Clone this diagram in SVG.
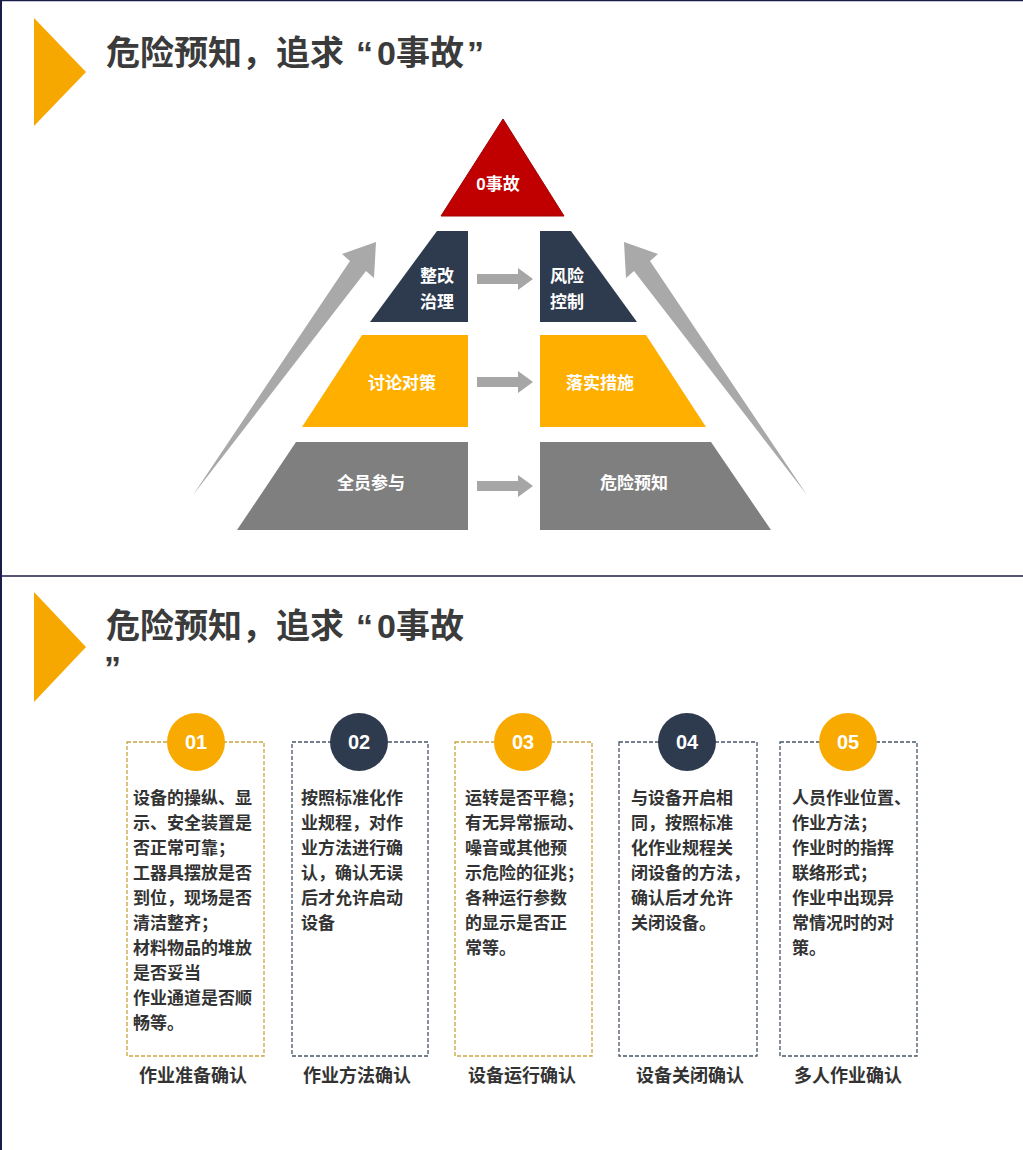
<svg xmlns="http://www.w3.org/2000/svg" width="1023" height="1150" viewBox="0 0 1023 1150">
<style>
text{font-family:"Liberation Sans","Noto Sans CJK SC",sans-serif;font-weight:bold}
.title{font-size:34px;fill:#3b3b3b}
.pw{font-size:17px;fill:#ffffff;text-anchor:middle}
.body{font-size:17px;fill:#333333}
.lab{font-size:18px;fill:#333333;text-anchor:middle}
.num{font-size:20px;fill:#ffffff;text-anchor:middle}
.cy{fill:none;stroke:#c9a440;stroke-width:1.3;stroke-dasharray:4 2}
.cn{fill:none;stroke:#4a5568;stroke-width:1.3;stroke-dasharray:4 2}
.arr{fill:#a6a6a6}
.big{fill:#a9a9a9}
</style>
<rect width="1023" height="1150" fill="#ffffff"/>
<line x1="0" y1="0.5" x2="1023" y2="0.5" stroke="#1c1c4a" stroke-width="1.5"/>
<line x1="1" y1="0" x2="1" y2="1150" stroke="#1c1c4a" stroke-width="2"/>
<line x1="0" y1="576" x2="1023" y2="576" stroke="#1c1c4a" stroke-width="1.5"/>

<g id="title1">
<polygon points="34,18 86,72 34,126" fill="#f6a800"/>
<text class="title" y="65"><tspan x="106">危险预知，追求</tspan><tspan x="356">“</tspan><tspan x="377">0事故</tspan><tspan x="467">”</tspan></text>
</g>

<g id="connectors">
<path class="big" d="M193,495 L350,261 L342,254 L376,242 L374,278 L366,271 Z"/>
<path class="big" d="M807,495 L650,261 L658,254 L624,242 L626,278 L634,271 Z"/>
<path class="arr" d="M477,274 H518 V268 L533,279 L518,290 V284 H477 Z"/>
<path class="arr" d="M477,377 H518 V371 L533,382 L518,393 V387 H477 Z"/>
<path class="arr" d="M477,481 H518 V475 L533,486 L518,497 V491 H477 Z"/>
</g>

<g id="node-top">
<polygon points="503,119 564,216 441,216" fill="#c00000" stroke="#a00000" stroke-width="1"/>
<text class="pw" x="498" y="190" style="font-size:17px">0事故</text>
</g>
<g id="node-zhenggai">
<polygon points="437,231 468,231 468,322 370,322" fill="#2e3a4e"/>
<text class="pw" x="437" y="282">整改</text>
<text class="pw" x="437" y="308">治理</text>
</g>
<g id="node-fengxian">
<polygon points="540,231 571,231 637,322 540,322" fill="#2e3a4e"/>
<text class="pw" x="567" y="282">风险</text>
<text class="pw" x="567" y="308">控制</text>
</g>
<g id="node-taolun">
<polygon points="362,335 468,335 468,427 302,427" fill="#feaf00"/>
<text class="pw" x="402" y="389">讨论对策</text>
</g>
<g id="node-luoshi">
<polygon points="540,335 646,335 706,427 540,427" fill="#feaf00"/>
<text class="pw" x="600" y="389">落实措施</text>
</g>
<g id="node-quanyuan">
<polygon points="296,442 468,442 468,530 237,530" fill="#7f7f7f"/>
<text class="pw" x="371" y="489">全员参与</text>
</g>
<g id="node-weixian">
<polygon points="540,442 711,442 771,530 540,530" fill="#7f7f7f"/>
<text class="pw" x="634" y="489">危险预知</text>
</g>

<g id="title2">
<polygon points="34,592 86,647 34,702" fill="#f6a800"/>
<text class="title" y="638"><tspan x="106">危险预知，追求</tspan><tspan x="356">“</tspan><tspan x="377">0事故</tspan></text>
<text class="title" x="104" y="680">”</text>
</g>

<g id="card1">
<rect class="cy" x="127" y="742" width="137" height="314"/>
<circle cx="196" cy="742" r="29" fill="#f8aa00"/>
<text class="num" x="196" y="749">01</text>
<text class="body"><tspan x="133" y="804">设备的操纵、显</tspan><tspan x="133" y="829">示、安全装置是</tspan><tspan x="133" y="854">否正常可靠；</tspan><tspan x="133" y="879">工器具摆放是否</tspan><tspan x="133" y="904">到位，现场是否</tspan><tspan x="133" y="929">清洁整齐；</tspan><tspan x="133" y="954">材料物品的堆放</tspan><tspan x="133" y="979">是否妥当</tspan><tspan x="133" y="1004">作业通道是否顺</tspan><tspan x="133" y="1029">畅等。</tspan></text>
<text class="lab" x="193" y="1082">作业准备确认</text>
</g>

<g id="card2">
<rect class="cn" x="292" y="742" width="136" height="314"/>
<circle cx="359" cy="742" r="29" fill="#2e3a4e"/>
<text class="num" x="359" y="749">02</text>
<text class="body"><tspan x="301" y="804">按照标准化作</tspan><tspan x="301" y="829">业规程，对作</tspan><tspan x="301" y="854">业方法进行确</tspan><tspan x="301" y="879">认，确认无误</tspan><tspan x="301" y="904">后才允许启动</tspan><tspan x="301" y="929">设备</tspan></text>
<text class="lab" x="357" y="1082">作业方法确认</text>
</g>

<g id="card3">
<rect class="cy" x="455" y="742" width="137" height="314"/>
<circle cx="523" cy="742" r="29" fill="#f8aa00"/>
<text class="num" x="523" y="749">03</text>
<text class="body"><tspan x="465" y="804">运转是否平稳；</tspan><tspan x="465" y="829">有无异常振动、</tspan><tspan x="465" y="854">噪音或其他预</tspan><tspan x="465" y="879">示危险的征兆；</tspan><tspan x="465" y="904">各种运行参数</tspan><tspan x="465" y="929">的显示是否正</tspan><tspan x="465" y="954">常等。</tspan></text>
<text class="lab" x="522" y="1082">设备运行确认</text>
</g>

<g id="card4">
<rect class="cn" x="619" y="742" width="138" height="314"/>
<circle cx="687" cy="742" r="29" fill="#2e3a4e"/>
<text class="num" x="687" y="749">04</text>
<text class="body"><tspan x="631" y="804">与设备开启相</tspan><tspan x="631" y="829">同，按照标准</tspan><tspan x="631" y="854">化作业规程关</tspan><tspan x="631" y="879">闭设备的方法，</tspan><tspan x="631" y="904">确认后才允许</tspan><tspan x="631" y="929">关闭设备。</tspan></text>
<text class="lab" x="690" y="1082">设备关闭确认</text>
</g>

<g id="card5">
<rect class="cn" x="780" y="742" width="137" height="314"/>
<circle cx="848" cy="742" r="29" fill="#f8aa00"/>
<text class="num" x="848" y="749">05</text>
<text class="body"><tspan x="792" y="804">人员作业位置、</tspan><tspan x="792" y="829">作业方法；</tspan><tspan x="792" y="854">作业时的指挥</tspan><tspan x="792" y="879">联络形式；</tspan><tspan x="792" y="904">作业中出现异</tspan><tspan x="792" y="929">常情况时的对</tspan><tspan x="792" y="954">策。</tspan></text>
<text class="lab" x="848" y="1082">多人作业确认</text>
</g>
</svg>
